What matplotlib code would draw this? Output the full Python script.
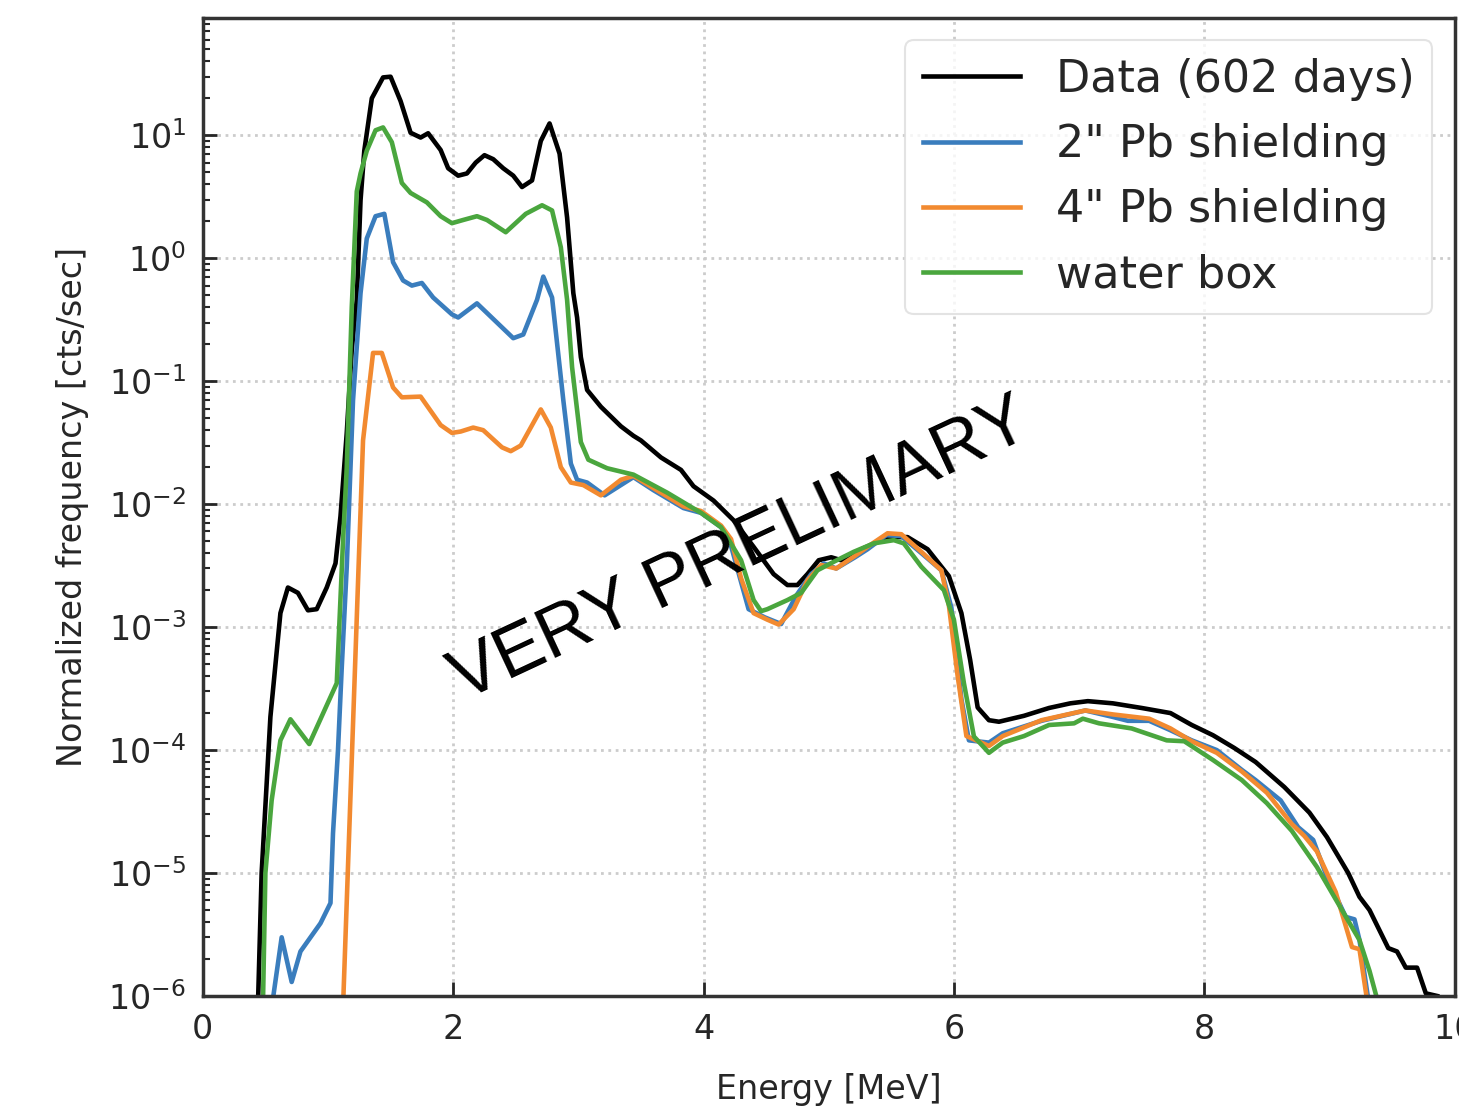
import matplotlib
matplotlib.use("Agg")
from matplotlib import pyplot as plt

# Data (602 days)
e_data = [0.44, 0.47, 0.54, 0.62, 0.68, 0.76, 0.84, 0.91, 0.99, 1.06,
          1.10, 1.15, 1.19, 1.23, 1.26, 1.29, 1.35, 1.44, 1.50, 1.58,
          1.66, 1.74, 1.80, 1.90, 1.96, 2.04, 2.11, 2.18, 2.25, 2.32,
          2.40, 2.48, 2.55, 2.63, 2.70, 2.77, 2.85, 2.91, 2.96, 2.99,
          3.02, 3.07, 3.18, 3.34, 3.44, 3.50, 3.66, 3.82, 3.92, 4.08,
          4.24, 4.40, 4.56, 4.67, 4.75, 4.83, 4.92, 5.02, 5.10, 5.26,
          5.42, 5.52, 5.63, 5.79, 5.96, 6.06, 6.13, 6.19, 6.28, 6.36,
          6.56, 6.76, 6.93, 7.07, 7.27, 7.50, 7.73, 7.90, 8.07, 8.24,
          8.41, 8.64, 8.84, 8.98, 9.15, 9.24, 9.32, 9.47, 9.54, 9.61,
          9.70, 9.77, 9.86]
f_data = [8e-7, 1e-5, 1.86e-4, 1.3e-3, 2.1e-3, 1.9e-3, 1.37e-3, 1.4e-3, 2.1e-3, 3.3e-3,
          8e-3, 0.038, 0.18, 0.46, 2.96, 7.5, 20, 29.6, 30, 19,
          10.5, 9.6, 10.4, 7.6, 5.4, 4.7, 4.9, 6.0, 6.9, 6.4,
          5.4, 4.7, 3.8, 4.3, 9.0, 12.5, 7.1, 2.15, 0.52, 0.33,
          0.157, 0.085, 0.062, 0.043, 0.036, 0.033, 0.024, 0.019, 0.014, 0.0107,
          0.0074, 0.0045, 0.0027, 0.0022, 0.0022, 0.0027, 0.0035, 0.0037, 0.0035, 0.0043,
          0.0051, 0.0054, 0.0054, 0.0043, 0.0026, 0.0013, 5.4e-4, 2.22e-4, 1.75e-4, 1.7e-4,
          1.9e-4, 2.2e-4, 2.4e-4, 2.5e-4, 2.4e-4, 2.2e-4, 2.0e-4, 1.6e-4, 1.32e-4, 1.04e-4,
          8e-5, 5e-5, 3.1e-5, 1.96e-5, 1e-5, 6.4e-6, 5e-6, 2.45e-6, 2.3e-6, 1.7e-6,
          1.7e-6, 1.05e-6, 1.0e-6]

# 2" Pb shielding
e_pb2 = [0.55, 0.63, 0.71, 0.78, 0.94, 1.02, 1.04, 1.08, 1.11, 1.15,
         1.20, 1.26, 1.31, 1.38, 1.45, 1.52, 1.60, 1.67, 1.75, 1.84,
         1.99, 2.04, 2.19, 2.48, 2.56, 2.67, 2.72, 2.79, 2.88, 2.94,
         2.99, 3.07, 3.21, 3.44, 3.60, 3.84, 3.98, 4.14, 4.20, 4.27,
         4.36, 4.49, 4.62, 4.74, 4.86, 4.96, 5.06, 5.21, 5.31, 5.46,
         5.58, 5.74, 5.90, 5.98, 6.06, 6.12, 6.28, 6.39, 6.70, 7.05,
         7.27, 7.39, 7.56, 7.73, 7.90, 8.10, 8.30, 8.41, 8.61, 8.75,
         8.87, 8.98, 9.13, 9.20, 9.24, 9.32]
f_pb2 = [8e-7, 3e-6, 1.3e-6, 2.3e-6, 3.9e-6, 5.7e-6, 2.1e-5, 1e-4, 4.7e-4, 3.1e-3,
         0.07, 0.52, 1.45, 2.2, 2.3, 0.93, 0.66, 0.6, 0.63, 0.48,
         0.35, 0.33, 0.43, 0.224, 0.24, 0.46, 0.71, 0.48, 0.07, 0.0214,
         0.0158, 0.015, 0.0118, 0.0166, 0.013, 0.0093, 0.0085, 0.0065, 0.0054, 0.003,
         0.0014, 0.0012, 0.00106, 0.0018, 0.0027, 0.0033, 0.003, 0.0037, 0.0043, 0.0056,
         0.0055, 0.004, 0.0029, 0.00144, 2.6e-4, 1.2e-4, 1.15e-4, 1.37e-4, 1.73e-4, 2.1e-4,
         1.86e-4, 1.73e-4, 1.73e-4, 1.45e-4, 1.2e-4, 1e-4, 6.9e-5, 5.7e-5, 3.9e-5, 2.36e-5,
         1.86e-5, 9.3e-6, 4.4e-6, 4.2e-6, 2.85e-6, 8e-7]

# 4" Pb shielding
e_pb4 = [1.12, 1.28, 1.36, 1.43, 1.52, 1.59, 1.74, 1.90, 1.99, 2.06,
         2.16, 2.24, 2.39, 2.46, 2.54, 2.70, 2.78, 2.86, 2.94, 3.04,
         3.18, 3.34, 3.44, 3.60, 3.84, 3.98, 4.14, 4.22, 4.30, 4.40,
         4.51, 4.60, 4.72, 4.83, 4.94, 5.06, 5.21, 5.31, 5.47, 5.58,
         5.74, 5.90, 5.96, 6.03, 6.10, 6.28, 6.39, 6.70, 7.05, 7.27,
         7.56, 7.73, 7.90, 8.10, 8.30, 8.50, 8.70, 8.80, 8.90, 9.05,
         9.18, 9.24, 9.31]
f_pb4 = [8e-7, 0.033, 0.17, 0.17, 0.089, 0.074, 0.075, 0.044, 0.038, 0.039,
         0.042, 0.04, 0.029, 0.027, 0.03, 0.059, 0.042, 0.02, 0.015, 0.0143,
         0.0118, 0.0158, 0.017, 0.0135, 0.0096, 0.0088, 0.0067, 0.0052, 0.0025, 0.0013,
         0.00115, 0.00105, 0.0014, 0.0024, 0.0032, 0.003, 0.0038, 0.0045, 0.0058, 0.0057,
         0.0041, 0.0029, 0.0015, 4e-4, 1.3e-4, 1.08e-4, 1.3e-4, 1.75e-4, 2.1e-4, 1.95e-4,
         1.8e-4, 1.5e-4, 1.18e-4, 9.5e-5, 6.7e-5, 4.5e-5, 2.5e-5, 2.0e-5, 1.5e-5, 7e-6,
         2.5e-6, 2.4e-6, 8e-7]

# water box
e_water = [0.48, 0.50, 0.55, 0.62, 0.70, 0.85, 1.07, 1.12, 1.15, 1.19,
           1.23, 1.26, 1.31, 1.38, 1.44, 1.51, 1.59, 1.66, 1.79, 1.90,
           1.99, 2.08, 2.19, 2.27, 2.42, 2.58, 2.71, 2.79, 2.86, 2.91,
           2.95, 3.02, 3.08, 3.23, 3.44, 3.71, 3.98, 4.14, 4.30, 4.40,
           4.46, 4.51, 4.67, 4.78, 4.91, 5.04, 5.20, 5.36, 5.52, 5.60,
           5.74, 5.92, 6.00, 6.08, 6.16, 6.28, 6.39, 6.56, 6.76, 6.96,
           7.03, 7.16, 7.42, 7.70, 7.84, 8.07, 8.30, 8.50, 8.70, 8.90,
           9.10, 9.24, 9.32, 9.40]
f_water = [8e-7, 1e-5, 3.9e-5, 1.2e-4, 1.78e-4, 1.12e-4, 3.5e-4, 5e-3, 0.02, 0.4,
           3.5, 4.9, 7.5, 11, 11.6, 8.8, 4.1, 3.4, 2.85, 2.2,
           1.93, 2.05, 2.2, 2.05, 1.63, 2.3, 2.7, 2.45, 1.23, 0.46,
           0.13, 0.032, 0.023, 0.0196, 0.0174, 0.0124, 0.0085, 0.0065, 0.0035, 0.00166,
           0.00135, 0.0014, 0.00166, 0.0019, 0.0029, 0.0034, 0.0041, 0.0048, 0.0051, 0.0048,
           0.0031, 0.002, 0.00115, 3.5e-4, 1.29e-4, 9.5e-5, 1.15e-4, 1.3e-4, 1.6e-4, 1.65e-4,
           1.8e-4, 1.65e-4, 1.5e-4, 1.2e-4, 1.18e-4, 8.3e-5, 5.7e-5, 3.7e-5, 2.2e-5, 1.12e-5,
           5e-6, 2.85e-6, 1.6e-6, 8e-7]

text_color = "#262626"
plt.rcParams["font.family"] = ["DejaVu Sans"]

fig = plt.figure(figsize=(14.59, 11.07), dpi=100)
ax = fig.add_axes([0.139, 0.1003, 0.858, 0.8834])

ax.plot(e_data, f_data, color="black", lw=3.3, label="Data (602 days)")
ax.plot(e_pb2, f_pb2, color="#3a7dbd", lw=3.3, label='2" Pb shielding')
ax.plot(e_pb4, f_pb4, color="#f28a30", lw=3.3, label='4" Pb shielding')
ax.plot(e_water, f_water, color="#4aa63e", lw=3.3, label="water box")

ax.set_yscale("log")
ax.set_xlim(0, 10)
ax.set_ylim(1e-6, 90)
ax.set_xticks([0, 2, 4, 6, 8, 10])

ax.grid(True, which="major", color="#cccccc", linestyle=":", linewidth=2)
ax.tick_params(axis="both", which="major", direction="in", length=10, width=2,
               labelsize=24, colors=text_color, pad=12)
ax.tick_params(axis="y", which="minor", direction="in", length=5, width=1.5,
               colors=text_color)
for s in ax.spines.values():
    s.set_color("#333333")
    s.set_linewidth(2.5)

ax.set_xlabel("Energy [MeV]", fontsize=24, color=text_color, labelpad=20)
ax.set_ylabel("Normalized frequency [cts/sec]", fontsize=24, color=text_color, labelpad=14)

leg = ax.legend(loc="upper right", fontsize=32, frameon=True, fancybox=True,
                handlelength=2.2)
leg.get_frame().set_edgecolor("#dddddd")
leg.get_frame().set_linewidth(1.5)
for t in leg.get_texts():
    t.set_color(text_color)

ax.text(0.43, 0.455, "VERY PRELIMARY", transform=ax.transAxes,
        fontsize=52, family="Liberation Sans", rotation=25,
        ha="center", va="center", color="black")

fig.savefig("out.png", dpi=100)
